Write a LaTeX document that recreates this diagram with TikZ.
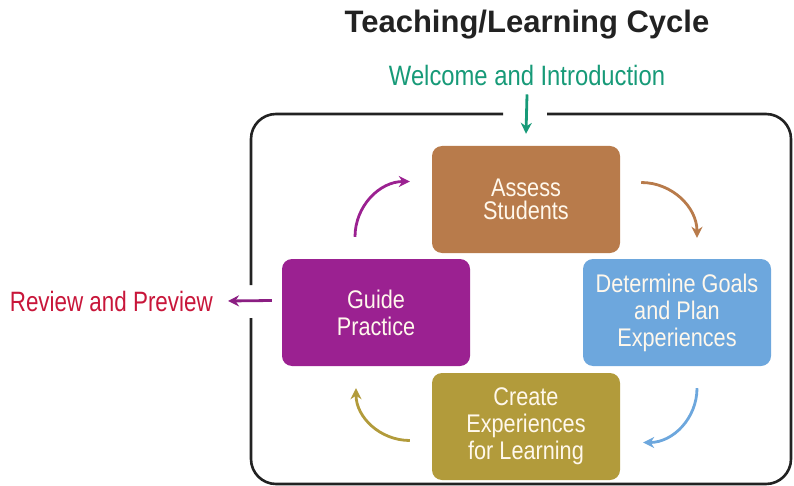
\documentclass[tikz,border=0pt]{standalone}
\usepackage{fontspec}
\setmainfont{Liberation Sans}
\newfontfamily\narrowsans[FakeStretch=0.85]{Liberation Sans}
\newfontfamily\narrowersans[FakeStretch=0.80]{Liberation Sans}
\usepackage{tikz}
\usetikzlibrary{arrows.meta,positioning,calc}

\definecolor{assesscol}{HTML}{B87B4B}
\definecolor{goalscol}{HTML}{6DA7DD}
\definecolor{createcol}{HTML}{B29B3B}
\definecolor{guidecol}{HTML}{9B2191}
\definecolor{welcomecol}{HTML}{179A78}
\definecolor{reviewcol}{HTML}{C8163A}
\definecolor{framecol}{HTML}{222222}
\definecolor{creamtext}{HTML}{FFF8EC}

\begin{document}
\begin{tikzpicture}[
  x=1pt, y=-1pt,
  stagebox/.style={rectangle, rounded corners=10pt, minimum width=188pt, minimum height=107pt,
    inner sep=0pt, align=center, text=creamtext, font=\narrowsans\fontsize{25.5}{27}\selectfont},
  cyclearrow/.style={line width=2.8pt, -{Stealth[length=11pt,width=11pt]}},
  frameline/.style={draw=framecol, line width=2.6pt, rounded corners=25pt},
]
\useasboundingbox (0,0) rectangle (794,486);

% Titles
\node[font=\bfseries\fontsize{31}{33}\selectfont, text=framecol] (title) at (527,25) {Teaching/Learning Cycle};
\node[font=\narrowsans\fontsize{28}{30}\selectfont, text=welcomecol, inner sep=0pt] (welcome) at (527,75) {Welcome and Introduction};

% Stages
\node[stagebox, fill=assesscol, font=\narrowsans\fontsize{25.5}{23}\selectfont] (assess) at (526,199.5) {Assess\\Students};
\node[stagebox, fill=goalscol] (goals) at (677,312.5) {Determine Goals\\and Plan\\Experiences};
\node[stagebox, fill=createcol] (create) at (526,426.5) {Create\\Experiences\\for Learning};
\node[stagebox, fill=guidecol] (guide) at (376,312.5) {Guide\\Practice};

\node[anchor=east, font=\narrowersans\fontsize{28}{30}\selectfont, text=reviewcol, inner sep=0pt] (review) at (213,301) {Review and Preview};

% Frame
\draw[frameline] (547,114) -- (791,114) -- (791,484) -- (251,484) -- (251,318);
\draw[frameline] (251,285) -- (251,114) -- (503,114);

% Lines
\draw[cyclearrow, draw=welcomecol, fill=welcomecol] ([yshift=-9pt]welcome.south) -- ([yshift=12pt]assess.north);
\draw[cyclearrow, draw=guidecol!90!black, fill=guidecol!90!black] ([xshift=-10pt,yshift=12pt]guide.west) -- ([xshift=15pt]review.east);
\draw[cyclearrow, draw=assesscol] ([xshift=21pt,yshift=17pt]assess.east) to[out=0,in=90] ([xshift=20pt,yshift=21pt]goals.north);
\draw[cyclearrow, draw=goalscol] ([xshift=20pt,yshift=-22pt]goals.south) to[out=-90,in=0] ([xshift=23pt,yshift=-16pt]create.east);
\draw[cyclearrow, draw=createcol] ([xshift=-22pt,yshift=-14pt]create.west) to[out=180,in=-90] ([xshift=-20pt,yshift=-22pt]guide.south);
\draw[cyclearrow, draw=guidecol] ([xshift=-21pt,yshift=22pt]guide.north) to[out=90,in=180] ([xshift=-22pt,yshift=18pt]assess.west);

\end{tikzpicture}
\end{document}
